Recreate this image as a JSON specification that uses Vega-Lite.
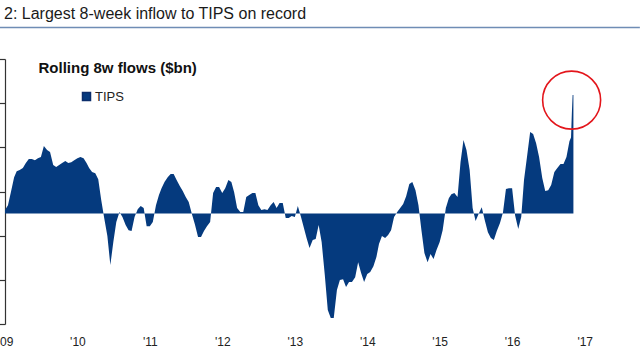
{
  "$schema": "https://vega.github.io/schema/vega-lite/v6.json",
  "autosize": {"type": "none"},
  "width": 594,
  "height": 265,
  "padding": {"left": 5, "top": 59, "right": 41, "bottom": 36},
  "background": "white",
  "config": {"view": {"stroke": null}, "font": "Liberation Sans"},
  "title": {"text": "2: Largest 8-week inflow to TIPS on record", "anchor": "start", "frame": "group", "fontSize": 16, "fontWeight": "normal", "font": "Liberation Sans", "color": "#1a1a1a", "offset": 5, "dx": -1},
  "datasets": {
    "flows": [
      {"d":"2009-01-01","v":0.16},{"d":"2009-01-16","v":0.38},{"d":"2009-02-01","v":1.02},{"d":"2009-02-16","v":1.65},{"d":"2009-03-01","v":1.92},{"d":"2009-03-16","v":1.97},{"d":"2009-04-01","v":2.06},{"d":"2009-04-16","v":2.29},{"d":"2009-05-01","v":2.47},{"d":"2009-05-16","v":2.47},{"d":"2009-06-01","v":2.42},{"d":"2009-06-16","v":2.51},{"d":"2009-07-01","v":2.56},{"d":"2009-07-16","v":3.06},{"d":"2009-08-01","v":2.88},{"d":"2009-08-16","v":2.79},{"d":"2009-09-01","v":2.20},{"d":"2009-09-16","v":2.11},{"d":"2009-10-01","v":2.20},{"d":"2009-10-16","v":2.29},{"d":"2009-11-01","v":2.38},{"d":"2009-11-16","v":2.29},{"d":"2009-12-01","v":2.33},{"d":"2009-12-16","v":2.42},
      {"d":"2010-01-01","v":2.51},{"d":"2010-01-16","v":2.56},{"d":"2010-02-01","v":2.51},{"d":"2010-02-16","v":2.29},{"d":"2010-03-01","v":2.06},{"d":"2010-03-16","v":1.88},{"d":"2010-04-01","v":1.83},{"d":"2010-04-16","v":1.56},{"d":"2010-05-01","v":0.61},{"d":"2010-05-16","v":-0.20},{"d":"2010-06-01","v":-1.02},{"d":"2010-06-16","v":-2.33},{"d":"2010-07-01","v":-1.29},{"d":"2010-07-16","v":-0.38},{"d":"2010-08-01","v":0.07},{"d":"2010-08-16","v":-0.16},{"d":"2010-09-01","v":-0.52},{"d":"2010-09-16","v":-0.75},{"d":"2010-10-01","v":-0.79},{"d":"2010-10-16","v":-0.16},{"d":"2010-11-01","v":0.20},{"d":"2010-11-16","v":0.34},{"d":"2010-12-01","v":0.25},{"d":"2010-12-16","v":-0.57},
      {"d":"2011-01-01","v":-0.57},{"d":"2011-01-16","v":-0.38},{"d":"2011-02-01","v":0.38},{"d":"2011-02-16","v":0.84},{"d":"2011-03-01","v":1.15},{"d":"2011-03-16","v":1.43},{"d":"2011-04-01","v":1.65},{"d":"2011-04-16","v":1.79},{"d":"2011-05-01","v":1.79},{"d":"2011-05-16","v":1.52},{"d":"2011-06-01","v":1.25},{"d":"2011-06-16","v":1.02},{"d":"2011-07-01","v":0.75},{"d":"2011-07-16","v":0.52},{"d":"2011-08-01","v":-0.02},{"d":"2011-08-16","v":-0.48},{"d":"2011-09-01","v":-1.06},{"d":"2011-09-16","v":-1.06},{"d":"2011-10-01","v":-0.79},{"d":"2011-10-16","v":-0.57},{"d":"2011-11-01","v":-0.38},{"d":"2011-11-16","v":0.93},{"d":"2011-12-01","v":1.20},{"d":"2011-12-16","v":1.20},
      {"d":"2012-01-01","v":0.93},{"d":"2012-01-16","v":1.15},{"d":"2012-02-01","v":1.52},{"d":"2012-02-16","v":1.43},{"d":"2012-03-01","v":0.97},{"d":"2012-03-16","v":0.25},{"d":"2012-04-01","v":0.07},{"d":"2012-04-16","v":0.07},{"d":"2012-05-01","v":0.75},{"d":"2012-05-16","v":0.84},{"d":"2012-06-01","v":0.93},{"d":"2012-06-16","v":0.93},{"d":"2012-07-01","v":0.38},{"d":"2012-07-16","v":0.16},{"d":"2012-08-01","v":0.20},{"d":"2012-08-16","v":0.16},{"d":"2012-09-01","v":0.38},{"d":"2012-09-16","v":0.52},{"d":"2012-10-01","v":0.25},{"d":"2012-10-16","v":0.48},{"d":"2012-11-01","v":0.48},{"d":"2012-11-16","v":-0.20},{"d":"2012-12-01","v":-0.20},{"d":"2012-12-16","v":-0.11},
      {"d":"2013-01-01","v":-0.16},{"d":"2013-01-16","v":0.34},{"d":"2013-02-01","v":-0.16},{"d":"2013-02-16","v":-0.66},{"d":"2013-03-01","v":-1.11},{"d":"2013-03-16","v":-1.56},{"d":"2013-04-01","v":-1.20},{"d":"2013-04-16","v":-1.15},{"d":"2013-05-01","v":-0.52},{"d":"2013-05-16","v":-1.29},{"d":"2013-06-01","v":-2.79},{"d":"2013-06-16","v":-4.37},{"d":"2013-07-01","v":-4.73},{"d":"2013-07-16","v":-4.73},{"d":"2013-08-01","v":-3.46},{"d":"2013-08-16","v":-3.01},{"d":"2013-09-01","v":-2.97},{"d":"2013-09-16","v":-3.33},{"d":"2013-10-01","v":-3.10},{"d":"2013-10-16","v":-3.10},{"d":"2013-11-01","v":-2.88},{"d":"2013-11-16","v":-2.20},{"d":"2013-12-01","v":-2.69},{"d":"2013-12-16","v":-3.10},
      {"d":"2014-01-01","v":-2.74},{"d":"2014-01-16","v":-2.65},{"d":"2014-02-01","v":-2.38},{"d":"2014-02-16","v":-1.97},{"d":"2014-03-01","v":-1.38},{"d":"2014-03-16","v":-1.02},{"d":"2014-04-01","v":-1.11},{"d":"2014-04-16","v":-0.97},{"d":"2014-05-01","v":-0.75},{"d":"2014-05-16","v":-0.16},{"d":"2014-06-01","v":0.07},{"d":"2014-06-16","v":0.25},{"d":"2014-07-01","v":0.43},{"d":"2014-07-16","v":0.79},{"d":"2014-08-01","v":1.34},{"d":"2014-08-16","v":1.43},{"d":"2014-09-01","v":1.06},{"d":"2014-09-16","v":0.38},{"d":"2014-10-01","v":-0.75},{"d":"2014-10-16","v":-1.79},{"d":"2014-11-01","v":-2.20},{"d":"2014-11-16","v":-1.83},{"d":"2014-12-01","v":-2.06},{"d":"2014-12-16","v":-1.65},
      {"d":"2015-01-01","v":-1.29},{"d":"2015-01-16","v":-0.75},{"d":"2015-02-01","v":0.25},{"d":"2015-02-16","v":0.70},{"d":"2015-03-01","v":0.88},{"d":"2015-03-16","v":0.93},{"d":"2015-04-01","v":0.75},{"d":"2015-04-16","v":2.33},{"d":"2015-05-01","v":3.33},{"d":"2015-05-16","v":2.88},{"d":"2015-06-01","v":1.97},{"d":"2015-06-16","v":0.25},{"d":"2015-07-01","v":-0.34},{"d":"2015-07-16","v":-0.02},{"d":"2015-08-01","v":0.29},{"d":"2015-08-16","v":-0.29},{"d":"2015-09-01","v":-0.84},{"d":"2015-09-16","v":-1.11},{"d":"2015-10-01","v":-1.20},{"d":"2015-10-16","v":-0.79},{"d":"2015-11-01","v":-0.43},{"d":"2015-11-16","v":0.05},{"d":"2015-12-01","v":1.11},{"d":"2015-12-16","v":1.15},
      {"d":"2016-01-01","v":1.15},{"d":"2016-01-16","v":-0.07},{"d":"2016-02-01","v":-0.70},{"d":"2016-02-16","v":-0.16},{"d":"2016-03-01","v":1.52},{"d":"2016-03-16","v":2.56},{"d":"2016-04-01","v":3.69},{"d":"2016-04-16","v":3.60},{"d":"2016-05-01","v":3.19},{"d":"2016-05-16","v":2.56},{"d":"2016-06-01","v":1.61},{"d":"2016-06-16","v":1.02},{"d":"2016-07-01","v":1.06},{"d":"2016-07-16","v":1.29},{"d":"2016-08-01","v":1.88},{"d":"2016-08-16","v":2.06},{"d":"2016-09-01","v":2.24},{"d":"2016-09-16","v":2.24},{"d":"2016-10-01","v":2.56},{"d":"2016-10-16","v":3.28},{"d":"2016-10-24","v":3.45},{"d":"2016-10-28","v":4.50},{"d":"2016-11-01","v":5.37},{"d":"2016-11-05","v":5.37}
    ],
    "highlight": [{"d":"2016-10-27","v":5.14}],
    "underline": [{"d1":"2008-12-04","d2":"2017-10-06","v":8.43}]
  },
  "layer": [
    {
      "data": {"name": "flows"},
      "mark": {"type": "area", "interpolate": "linear"},
      "encoding": {
        "x": {"field": "d", "type": "temporal",
              "scale": {"domain": [{"year": 2009, "month": 1, "date": 1}, {"year": 2017, "month": 3, "date": 14}]},
              "axis": {"title": null, "format": "'%y", "values": [{"year":2009,"month":1,"date":1},{"year":2010,"month":1,"date":1},{"year":2011,"month":1,"date":1},{"year":2012,"month":1,"date":1},{"year":2013,"month":1,"date":1},{"year":2014,"month":1,"date":1},{"year":2015,"month":1,"date":1},{"year":2016,"month":1,"date":1},{"year":2017,"month":1,"date":1}],
                       "domain": false, "ticks": false, "grid": false, "labelFlush": false, "labelOverlap": false,
                       "labelFontSize": 12, "labelColor": "#222222", "labelPadding": 12, "labelFont": "Liberation Sans"}},
        "y": {"field": "v", "type": "quantitative",
              "scale": {"domain": [-5, 7], "nice": false, "zero": false},
              "axis": {"values": [-5, -3, -1, 1, 3, 5, 7], "labels": false, "grid": false,
                       "domainColor": "#333333", "tickColor": "#333333", "tickSize": 6, "domainWidth": 1.2, "tickWidth": 1.2,
                       "title": "Rolling 8w flows ($bn)", "titleAngle": 0, "titleAlign": "left", "titleBaseline": "middle",
                       "titleX": 33, "titleY": 8, "titleFontSize": 15, "titleFontWeight": "bold", "titleColor": "#111111", "titleFont": "Liberation Sans"}},
        "color": {"datum": "TIPS", "type": "nominal",
                  "scale": {"range": ["#053a7e"]},
                  "legend": {"title": null, "orient": "none", "legendX": 75, "legendY": 31, "padding": 0,
                             "symbolType": "square", "symbolSize": 64, "labelFontSize": 13, "labelColor": "#222222", "labelOffset": 2, "labelFont": "Liberation Sans",
                             "symbolStrokeColor": "#0b2d6b", "symbolStrokeWidth": 1.5}}
      }
    },
    {
      "mark": {"type": "rule", "color": "#000000", "strokeWidth": 1.8},
      "encoding": {"y": {"datum": 0}}
    },
    {
      "data": {"name": "highlight"},
      "mark": {"type": "point", "shape": "circle", "filled": false, "stroke": "#e3151b", "strokeWidth": 1.6, "size": 3364, "opacity": 1},
      "encoding": {"x": {"field": "d", "type": "temporal"}, "y": {"field": "v", "type": "quantitative"}}
    },
    {
      "data": {"name": "underline"},
      "mark": {"type": "rule", "color": "#6f8db5", "strokeWidth": 1.5, "clip": false},
      "encoding": {"x": {"field": "d1", "type": "temporal"}, "x2": {"field": "d2"}, "y": {"field": "v", "type": "quantitative"}}
    }
  ]
}
